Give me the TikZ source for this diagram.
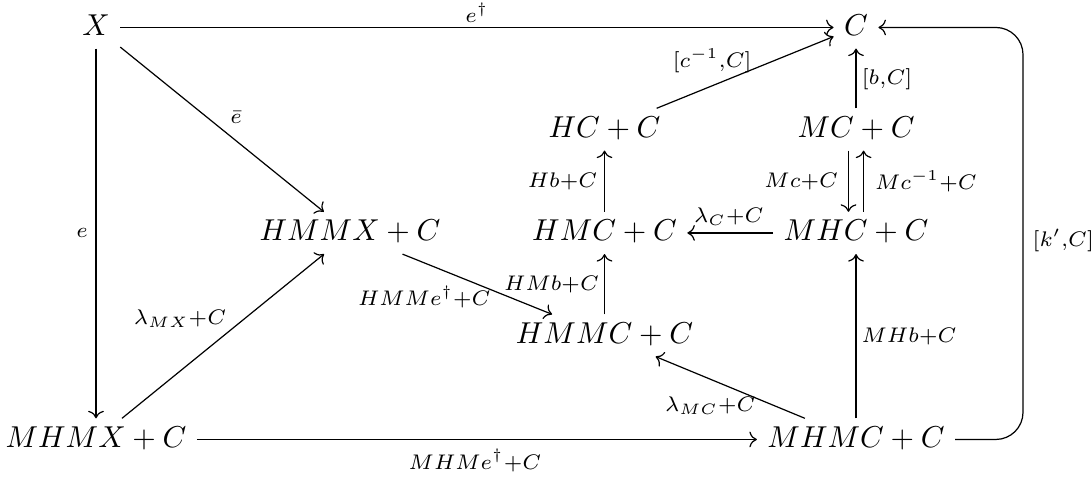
\documentclass[tikz,border=0pt]{standalone}
\usetikzlibrary{arrows.meta}
\begin{document}
\begin{tikzpicture}[x=0.33113pt, y=-0.33113pt,
  obj/.style={anchor=base, inner xsep=3.3pt, inner ysep=2.3pt, text height=7pt, text depth=2pt},
  ar/.style={-{Computer Modern Rightarrow}, line width=0.4pt},
  lbl/.style={inner sep=0pt, anchor=center}]
\useasboundingbox (0,0) rectangle (1091,477);
\node[obj] (x) at (96,35) {$X$};
\node[obj] (c) at (856,35) {$C$};
\node[obj] (hc) at (604.5,137) {$HC+C$};
\node[obj] (mc) at (856,137) {$MC+C$};
\node[obj] (hmmx) at (350,240.5) {$HMMX+C$};
\node[obj] (hmc) at (604.5,240.5) {$HMC+C$};
\node[obj] (mhc) at (856,240.5) {$MHC+C$};
\node[obj] (hmmc) at (604.5,343) {$HMMC+C$};
\node[obj] (mhmx) at (96,447) {$MHMX+C$};
\node[obj] (mhmc) at (856,447) {$MHMC+C$};

\draw[ar] (x) -- node[lbl, shift={(0,-15)}] (l1) {$\scriptstyle e^{\dagger}$} (c);
\draw[ar] (x) -- node[lbl, shift={(14,-12)}] (l2) {$\scriptstyle \bar e$} (hmmx);
\draw[ar] (x) -- node[lbl, shift={(-14,-1)}] (l3) {$\scriptstyle e$} (mhmx);
\draw[ar] (mhmx) -- node[lbl, shift={(-43,-18)}] (l4) {$\scriptstyle \lambda_{MX}+C$} (hmmx);
\draw[ar] (hmmx) -- node[lbl, shift={(-53,13)}] (l5) {$\scriptstyle HMMe^{\dagger}+C$} (hmmc);
\draw[ar] (hmmc) -- node[lbl, shift={(-53,0)}] (l6) {$\scriptstyle HMb+C$} (hmc);
\draw[ar] (hmc) -- node[lbl, shift={(-42,0)}] (l7) {$\scriptstyle Hb+C$} (hc);
\draw[ar] (hc) -- node[lbl, shift={(-33,-12)}] (l8) {$\scriptstyle [c^{-1},C]$} (c);
\draw[ar] (mc) -- node[lbl, shift={(31,1)}] (l9) {$\scriptstyle [b,C]$} (c);
\draw[ar] ([xshift=-2.5pt]mc.south) -- node[lbl, anchor=east, xshift=-3.3pt] (l10) {$\scriptstyle Mc+C$} ([xshift=-2.5pt]mhc.north);
\draw[ar] ([xshift=2.5pt]mhc.north) -- node[lbl, anchor=west, xshift=3.6pt] (l11) {$\scriptstyle Mc^{-1}+C$} ([xshift=2.5pt]mc.south);
\draw[ar] (mhc) -- node[lbl, shift={(-1.5,-16.7)}] (l12) {$\scriptstyle \lambda_C+C$} (hmc);
\draw[ar] (mhmc) -- node[lbl, shift={(53,0)}] (l13) {$\scriptstyle MHb+C$} (mhc);
\draw[ar] (mhmc) -- node[lbl, shift={(-20,18.5)}] (l14) {$\scriptstyle \lambda_{MC}+C$} (hmmc);
\draw[ar] (mhmx) -- node[lbl, shift={(-2,21)}] (l15) {$\scriptstyle MHMe^{\dagger}+C$} (mhmc);
\coordinate (kx) at (1023,240);
\draw[ar, rounded corners=9pt] (mhmc.east) -| (kx) node[lbl, anchor=west, xshift=3pt] (l16) {$\scriptstyle [k',C]$} |- (c.east);
\end{tikzpicture}
\end{document}
